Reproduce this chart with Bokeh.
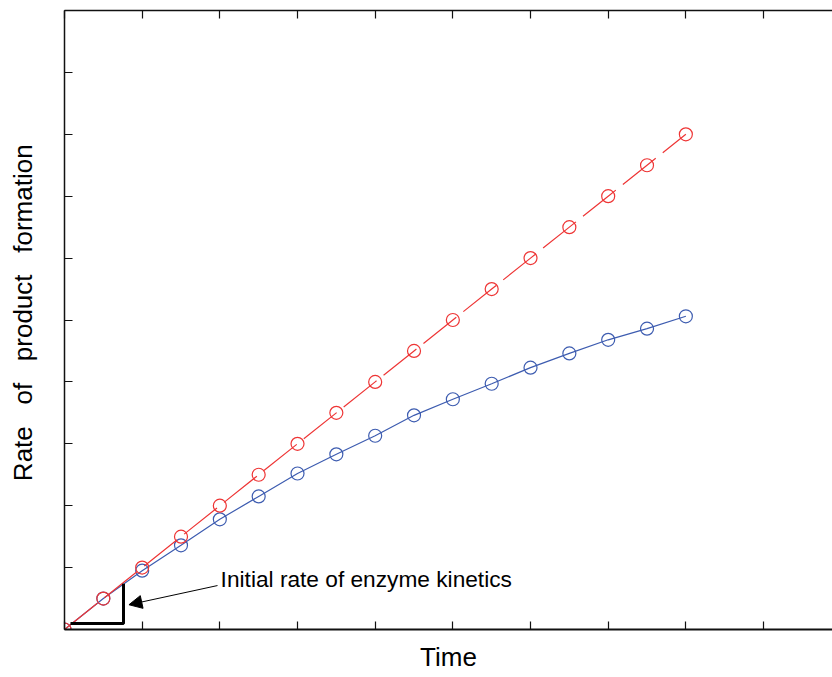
from bokeh.plotting import figure
from bokeh.models import Range1d, LinearAxis, FixedTicker, Arrow, NormalHead, Label
from bokeh.embed import file_html
from bokeh.resources import INLINE

# ---- data ----
time = [0, 0.5, 1, 1.5, 2, 2.5, 3, 3.5, 4, 4.5, 5, 5.5, 6, 6.5, 7, 7.5, 8]
initial_rate = [0, 0.5, 1, 1.5, 2, 2.5, 3, 3.5, 4, 4.5, 5, 5.5, 6, 6.5, 7, 7.5, 8]
observed = [0, 0.50, 0.95, 1.36, 1.78, 2.15, 2.52, 2.83, 3.13, 3.46, 3.72,
            3.97, 4.23, 4.46, 4.68, 4.86, 5.06]
x_ticks = [0, 1, 2, 3, 4, 5, 6, 7, 8, 9]
y_ticks = [0, 1, 2, 3, 4, 5, 6, 7, 8, 9, 10]
tri_x = [0.077, 0.76, 0.76]
tri_y = [0.097, 0.097, 0.74]
annot_text = "Initial rate of enzyme kinetics"

RED = "#ee3535"
BLUE = "#3d5cb0"
FONT = "Liberation Sans"
NB = "\u00a0"

p = figure(width=832, height=677, x_range=Range1d(0, 9.888), y_range=Range1d(0, 10),
           output_backend="svg", toolbar_location=None,
           min_border_left=64, min_border_right=0, min_border_top=10, min_border_bottom=48)
p.outline_line_color = None
p.xgrid.visible = False
p.ygrid.visible = False
p.background_fill_color = "white"
p.border_fill_color = "white"

def style_axis(ax, ticks, lw):
    # ticks drawn as (label-less) minor ticks
    ax.ticker = FixedTicker(ticks=[], minor_ticks=ticks)
    ax.major_label_standoff = 0
    ax.major_tick_line_color = None
    ax.minor_tick_in = 8
    ax.minor_tick_out = 0
    ax.minor_tick_line_color = "#111111"
    ax.minor_tick_line_width = 1.2
    ax.axis_line_width = lw
    ax.axis_line_color = "#111111"

style_axis(p.xaxis[0], x_ticks, 2.2)
style_axis(p.yaxis[0], y_ticks, 1.5)

p.xaxis.axis_label = "Time"
p.yaxis.axis_label = (NB * 2 + "Rate" + NB * 3 + "of" + NB * 3 + "product" + NB * 3 + "formation")
for ax in (p.xaxis[0], p.yaxis[0]):
    ax.axis_label_text_font = FONT
    ax.axis_label_text_font_size = "26px"
    ax.axis_label_text_font_style = "normal"
    ax.axis_label_text_color = "black"
p.xaxis[0].axis_label_standoff = 12
p.yaxis[0].axis_label_standoff = 27

top = LinearAxis()
style_axis(top, x_ticks, 1.5)
p.add_layout(top, "above")

# series
p.line(time, observed, line_color=BLUE, line_width=1.2)
p.scatter(time, observed, marker="circle", size=13, fill_color=None,
          line_color=BLUE, line_width=1.2)
p.line(time, initial_rate, line_color=RED, line_width=1.2, line_dash="42 9")
p.scatter(time, initial_rate, marker="circle", size=13, fill_color=None,
          line_color=RED, line_width=1.2)

# initial-rate triangle
p.line(tri_x, tri_y, line_color="black", line_width=3)

# annotation
p.add_layout(Arrow(x_start=1.97, y_start=0.71, x_end=0.83, y_end=0.40,
                   line_color="black", line_width=1,
                   end=NormalHead(size=13, fill_color="black", line_color="black")))
p.add_layout(Label(x=2.01, y=0.82, text=annot_text, text_font=FONT,
                   text_font_size="22.7px", text_baseline="middle", text_color="black"))

open("out.html", "w").write(file_html(p, INLINE))
